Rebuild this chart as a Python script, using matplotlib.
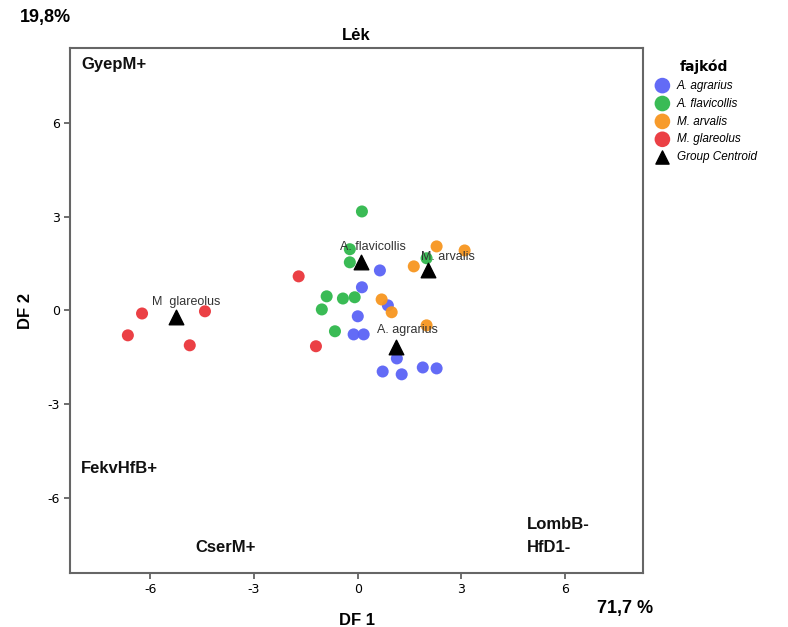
import matplotlib.pyplot as plt

plt.rcParams['axes.unicode_minus'] = False

# discriminant scores
agr_x = [0.64, 0.12, 0.00, 0.87, -0.12, 0.17, 1.13, 0.72, 1.27, 1.88, 2.28]
agr_y = [1.28, 0.74, -0.19, 0.16, -0.77, -0.77, -1.54, -1.96, -2.05, -1.83, -1.86]
fla_x = [0.12, -0.23, -0.23, 1.99, -0.90, -1.04, -0.43, -0.09, -0.66]
fla_y = [3.17, 1.96, 1.54, 1.67, 0.45, 0.03, 0.38, 0.42, -0.67]
arv_x = [2.28, 3.09, 1.62, 0.69, 0.98, 1.99]
arv_y = [2.05, 1.92, 1.41, 0.35, -0.06, -0.48]
gla_x = [-6.24, -6.65, -4.42, -4.86, -1.71, -1.21]
gla_y = [-0.10, -0.80, -0.03, -1.12, 1.09, -1.15]

species = ['A. agrarius', 'A. flavicollis', 'M. arvalis', 'M. glareolus']
colors = ['#5b63f6', '#2fb84c', '#f7961f', '#ea353b']
cent_x = [1.10, 0.09, 2.02, -5.26]
cent_y = [-1.19, 1.54, 1.28, -0.22]
cent_labels = ['A. agrarius', 'A. flavicollis', 'M. arvalis', 'M  glareolus']

ticks = [-6, -3, 0, 3, 6]

fig = plt.figure(figsize=(7.88, 6.27), dpi=100)
ax = fig.add_axes([0.089, 0.086, 0.727, 0.837])

groups = [(agr_x, agr_y), (fla_x, fla_y), (arv_x, arv_y), (gla_x, gla_y)]
for (xs, ys), name, c in zip(groups, species, colors):
    ax.scatter(xs, ys, s=75, color=c, edgecolors='none', alpha=0.95, label=name, zorder=2)

ax.scatter(cent_x, cent_y, marker='^', s=110, color='black', label='Group Centroid', zorder=3)

# centroid labels, nudged like in the original
dx = [-0.55, -0.6, -0.2, -0.7]
dy = [0.45, 0.4, 0.35, 0.4]
for x, y, lab, a, b in zip(cent_x, cent_y, cent_labels, dx, dy):
    ax.text(x + a, y + b, lab, fontsize=9, color='#333333', family='Liberation Sans', zorder=4)

ax.set_xlim(-8.32, 8.25)
ax.set_ylim(-8.42, 8.4)
ax.set_xticks(ticks)
ax.set_yticks(ticks)
ax.tick_params(direction='out', length=4, width=1.2, color='#555555', labelsize=9)
for s in ax.spines.values():
    s.set_color('#666666')
    s.set_linewidth(1.5)

bold = dict(fontsize=12, fontweight='bold', family='Liberation Sans', color='#111111')
ax.text(-8.0, 7.75, 'GyepM+', **bold)
ax.text(-8.0, -5.2, 'FekvHfB+', **bold)
ax.text(-4.7, -7.75, 'CserM+', **bold)
ax.text(4.9, -7.0, 'LombB-', **bold)
ax.text(4.9, -7.75, 'HfD1-', **bold)

ax.set_xlabel('DF 1', fontsize=12, fontweight='bold', family='Liberation Sans', labelpad=12)
ax.set_ylabel('DF 2', fontsize=12, fontweight='bold', family='Liberation Sans', labelpad=10)
ax.set_title('Lėk', fontsize=12, fontweight='bold', family='Liberation Sans', pad=6)

fig.text(0.025, 0.965, '19,8%', fontsize=13, fontweight='bold', family='Liberation Sans')
fig.text(0.757, 0.023, '71,7 %', fontsize=13, fontweight='bold', family='Liberation Sans')

leg = ax.legend(loc='upper left', bbox_to_anchor=(1.005, 0.988), frameon=False,
                title='fajkód', handletextpad=0.2, labelspacing=0.5, borderaxespad=0,
                markerscale=1.3, prop={'style': 'italic', 'size': 8.5, 'family': 'Liberation Sans'})
leg.get_title().set_fontweight('bold')
leg.get_title().set_fontsize(10)
leg.legend_handles[-1].set_sizes([90])

plt.savefig('out.png', dpi=100)
